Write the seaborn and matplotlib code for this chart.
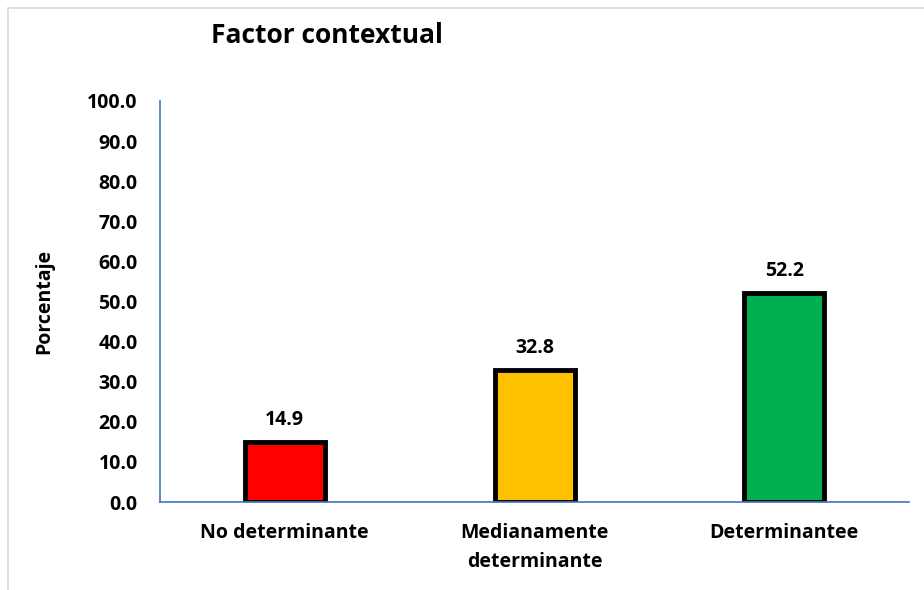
import matplotlib
matplotlib.use("Agg")
import matplotlib.pyplot as plt
import seaborn as sns
import pandas as pd
from matplotlib.lines import Line2D

# Data
categorias = ["No determinante", "Medianamente\ndeterminante", "Determinantee"]
porcentajes = [14.9, 32.8, 52.2]
colores = ["#FF0000", "#FFC000", "#00B050"]
yticks = [0, 10, 20, 30, 40, 50, 60, 70, 80, 90, 100]

sns.set_theme(style="white")
plt.rcParams['font.family'] = ['Open Sans', 'DejaVu Sans']
plt.rcParams['font.weight'] = 'bold'
plt.rcParams['text.color'] = 'black'
plt.rcParams['axes.labelcolor'] = 'black'
plt.rcParams['xtick.color'] = 'black'
plt.rcParams['ytick.color'] = 'black'

df = pd.DataFrame({"categoria": categorias, "porcentaje": porcentajes})

fig = plt.figure(figsize=(9.24, 5.90), dpi=100)
ax = fig.add_axes([0.173, 0.149, 0.811, 0.680])

sns.barplot(data=df, x="categoria", y="porcentaje", hue="categoria",
            palette=colores, saturation=1, edgecolor="black", linewidth=3.5,
            width=0.32, legend=False, ax=ax)

# Value labels
for i, v in enumerate(porcentajes):
    ax.text(i, v + 3, f"{v:.1f}", ha="center", va="bottom",
            fontsize=14, fontweight="bold")

ax.set_xlim(-0.5, 2.5)
ax.set_ylim(0, 100)
ax.set_yticks(yticks)
ax.set_yticklabels([f"{t:.1f}" for t in yticks], fontsize=14, fontweight="bold")
ax.tick_params(axis="x", labelsize=14, length=0, pad=15)
ax.tick_params(axis="y", length=0, pad=16)
for lbl in ax.get_xticklabels():
    lbl.set_fontweight("bold")
    lbl.set_linespacing(1.6)
ax.set_xlabel("")
ax.set_ylabel("Porcentaje", fontsize=14, fontweight="bold", labelpad=24)

for s in ["top", "right"]:
    ax.spines[s].set_visible(False)
for s in ["left", "bottom"]:
    ax.spines[s].set_color("#4472C4")
    ax.spines[s].set_linewidth(1.2)
ax.grid(False)

fig.text(0.354, 0.94, "Factor contextual", ha="center", va="center",
         fontsize=19, fontweight="bold")

# Light frame around the chart area
fig.add_artist(Line2D([8/924, 8/924], [0, 1 - 8/590], color="#D9D9D9", lw=1.2))
fig.add_artist(Line2D([8/924, 1], [1 - 8/590, 1 - 8/590], color="#D9D9D9", lw=1.2))

fig.savefig("out.png", dpi=100)
